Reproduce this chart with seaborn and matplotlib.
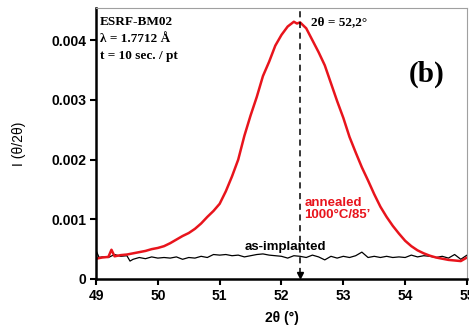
import matplotlib
matplotlib.use("Agg")
import matplotlib.pyplot as plt
import numpy as np
import pandas as pd
import seaborn as sns

# red curve - annealed 1000C/85'
ann_x = [49.0, 49.1, 49.2, 49.25, 49.3, 49.4, 49.5, 49.6, 49.7, 49.8, 49.9,
         50.0, 50.1, 50.2, 50.3, 50.4, 50.5, 50.6, 50.7, 50.8, 50.9,
         51.0, 51.1, 51.2, 51.3, 51.4, 51.5, 51.6, 51.7, 51.8, 51.9,
         52.0, 52.1, 52.2, 52.25, 52.3, 52.35, 52.4, 52.5, 52.6, 52.7, 52.8, 52.9,
         53.0, 53.1, 53.2, 53.3, 53.4, 53.5, 53.6, 53.7, 53.8, 53.9,
         54.0, 54.1, 54.2, 54.3, 54.4, 54.5, 54.6, 54.7, 54.8, 54.9, 55.0]
ann_y = [0.00034, 0.00036, 0.00037, 0.00049, 0.00038, 0.00040, 0.00041, 0.00043, 0.00045, 0.00047, 0.00050,
         0.00052, 0.00055, 0.00060, 0.00066, 0.00072, 0.00077, 0.00084, 0.00093, 0.00104, 0.00114,
         0.00126, 0.00147, 0.00172, 0.00200, 0.00240, 0.00274, 0.00305, 0.00340, 0.00364, 0.00391,
         0.00409, 0.00423, 0.00431, 0.00428, 0.00430, 0.00425, 0.00420, 0.00400, 0.00380, 0.00358, 0.00328, 0.00298,
         0.00270, 0.00238, 0.00212, 0.00187, 0.00165, 0.00142, 0.00121, 0.00104, 0.00089, 0.00076,
         0.00064, 0.00055, 0.00048, 0.00043, 0.00039, 0.00036, 0.00034, 0.00032, 0.00031, 0.00030, 0.00036]

# black curve - as-implanted
imp_x = [49.0, 49.05, 49.1, 49.2, 49.3, 49.4, 49.5, 49.55, 49.6, 49.7, 49.8, 49.9,
         50.0, 50.1, 50.2, 50.3, 50.4, 50.5, 50.6, 50.7, 50.8, 50.9,
         51.0, 51.1, 51.2, 51.3, 51.4, 51.5, 51.6, 51.7, 51.8, 51.9,
         52.0, 52.1, 52.2, 52.3, 52.4, 52.5, 52.6, 52.7, 52.8, 52.9,
         53.0, 53.1, 53.2, 53.3, 53.4, 53.5, 53.6, 53.7, 53.8, 53.9,
         54.0, 54.1, 54.2, 54.3, 54.4, 54.5, 54.6, 54.7, 54.8, 54.9, 55.0]
imp_y = [0.00048, 0.00036, 0.00037, 0.00036, 0.00041, 0.00038, 0.00039, 0.00030, 0.00033, 0.00036, 0.00034, 0.00037,
         0.00035, 0.00036, 0.00035, 0.00037, 0.00033, 0.00036, 0.00035, 0.00038, 0.00036, 0.00041,
         0.00040, 0.00041, 0.00039, 0.00040, 0.00037, 0.00039, 0.00041, 0.00042, 0.00040, 0.00039,
         0.00038, 0.00035, 0.00039, 0.00038, 0.00036, 0.00040, 0.00037, 0.00032, 0.00038, 0.00035,
         0.00038, 0.00036, 0.00039, 0.00045, 0.00036, 0.00038, 0.00036, 0.00038, 0.00036, 0.00037,
         0.00036, 0.00040, 0.00037, 0.00039, 0.00038, 0.00036, 0.00038, 0.00035, 0.00041, 0.00033, 0.00040]

peak_pos = 52.3
x_ticks = [49, 50, 51, 52, 53, 54, 55]
y_ticks = [0, 0.001, 0.002, 0.003, 0.004]
y_labels = ['0', '0.001', '0.002', '0.003', '0.004']

sns.set_style("ticks")
plt.rcParams['font.family'] = ['Liberation Sans', 'DejaVu Sans']
for k in ['text.color', 'axes.labelcolor', 'xtick.color', 'ytick.color']:
    plt.rcParams[k] = 'black'

fig = plt.figure(figsize=(4.69, 3.34), dpi=100)
ax = fig.add_axes([0.2047, 0.1647, 0.791, 0.8113])

df_ann = pd.DataFrame({'x': ann_x, 'y': ann_y})
df_imp = pd.DataFrame({'x': imp_x, 'y': imp_y})
sns.lineplot(data=df_imp, x='x', y='y', ax=ax, color='black', linewidth=0.9, sort=False)
sns.lineplot(data=df_ann, x='x', y='y', ax=ax, color='#e8141c', linewidth=1.8, sort=False)

ax.set(xlim=(49, 55), ylim=(0, 0.00454))
ax.set_xticks(x_ticks)
ax.set_xticklabels([str(t) for t in x_ticks], fontweight='bold', fontsize=10)
ax.set_yticks(y_ticks)
ax.set_yticklabels(y_labels, fontweight='bold', fontsize=10)
ax.tick_params(direction='out', length=4, width=1.5, pad=3, colors='black')
ax.set_xlabel('2θ (°)', fontweight='bold', fontsize=10, labelpad=6)
ax.set_ylabel('I (θ/2θ)', fontsize=10, labelpad=18)

for s in ['left', 'bottom']:
    ax.spines[s].set_linewidth(1.8)
    ax.spines[s].set_color('black')
for s in ['top', 'right']:
    ax.spines[s].set_linewidth(0.8)
    ax.spines[s].set_color('#a0a0a0')

# peak marker
ax.vlines(peak_pos, 0.00008, 0.00454, colors='black', linestyles=(0, (4, 3)), linewidth=1.1)
ax.plot([peak_pos], [0.00007], marker='v', color='black', markersize=5)

serif = ['Liberation Serif', 'DejaVu Serif']
ax.text(49.06, 0.00430, 'ESRF-BM02', family=serif, fontweight='bold', fontsize=9.5, va='center')
ax.text(49.06, 0.00402, 'λ = 1.7712 Å', family=serif, fontweight='bold', fontsize=9.5, va='center')
ax.text(49.06, 0.00374, 't = 10 sec. / pt', family=serif, fontweight='bold', fontsize=9.5, va='center')
ax.text(52.47, 0.00430, '2θ = 52,2°', family=serif, fontweight='bold', fontsize=9.5, va='center')
ax.text(54.35, 0.00343, '(b)', family=serif, fontweight='bold', fontsize=21, va='center', ha='center')

ax.text(52.37, 0.00117, "annealed\n1000°C/85’", color='#e8141c', fontweight='bold', fontsize=9.5,
        va='center', linespacing=1.0)
ax.text(51.41, 0.00053, 'as-implanted', color='black', fontweight='bold', fontsize=9.5, va='center')

fig.savefig('out.png', dpi=100)
